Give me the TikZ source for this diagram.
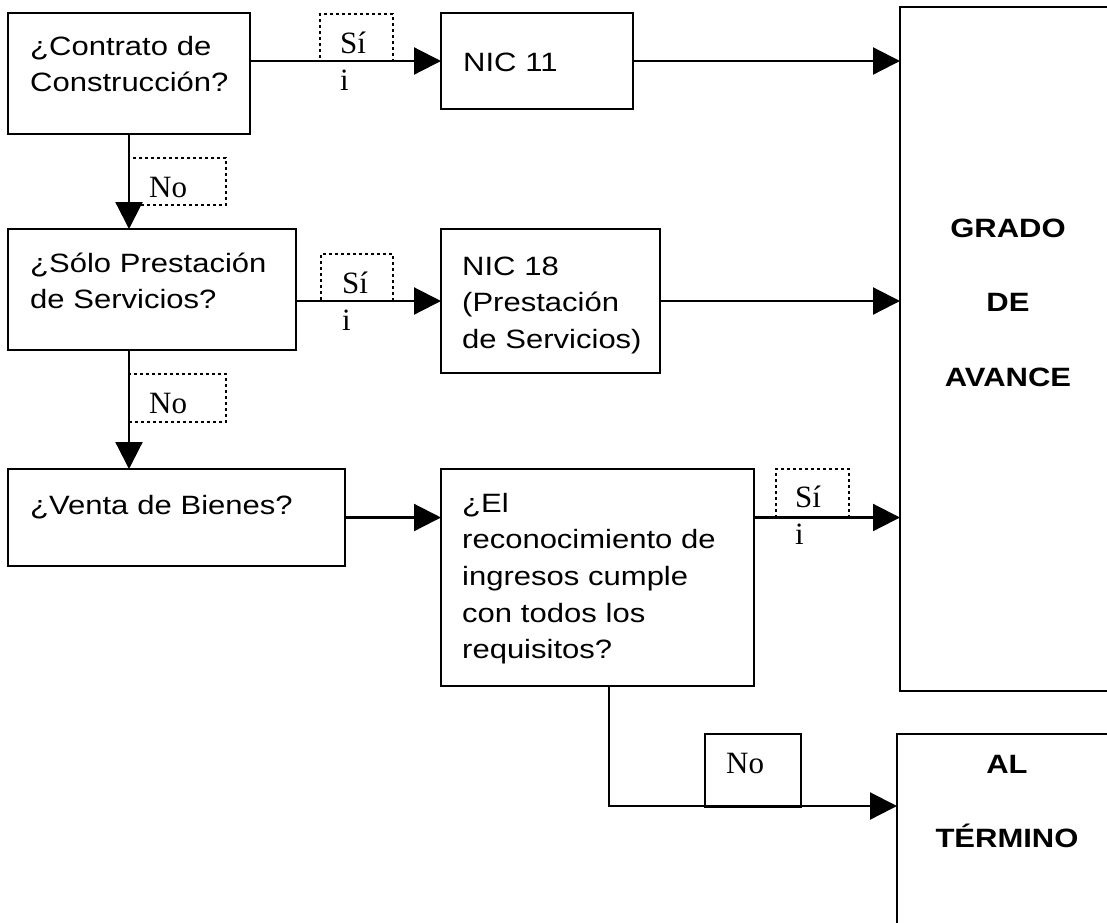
\documentclass[tikz,border=0pt]{standalone}
\usepackage{fontspec}
\setmainfont{Liberation Sans}[FakeStretch=1.17]
\newfontfamily\timesfont{Liberation Serif}
\usetikzlibrary{arrows.meta}

\tikzset{
  box/.style={draw, line width=2.6pt, inner sep=0pt, outer sep=0pt, anchor=north west},
  tag/.style={draw, line width=2pt, dash pattern=on 3pt off 3pt, inner sep=0pt, outer sep=0pt, anchor=north west},
  txt/.style={anchor=base west, inner sep=0pt, text width=400pt, align=left,
              font=\fontsize{26.5}{36.7}\selectfont},
  head/.style={anchor=base, inner sep=0pt, text width=200pt, align=center,
               font=\bfseries\fontsize{26.5}{74.5}\selectfont},
  ans/.style={anchor=base west, inner sep=0pt, text width=60pt, align=left,
              font=\timesfont\fontsize{31}{37}\selectfont},
  link/.style={line width=2.2pt},
  flow/.style={link, -{Triangle[length=27pt,width=27pt]}}
}

\begin{document}
\begin{tikzpicture}[x=1pt, y=-1pt]
\useasboundingbox (0,0) rectangle (1107,922);
\clip (0,0) rectangle (1107,922);

% question and result boxes
\node[box, minimum width=242pt, minimum height=121pt] (c1) at (8,13) {};
\node[box, minimum width=288pt, minimum height=121pt] (c2) at (8,229) {};
\node[box, minimum width=337pt, minimum height=97pt]  (c3) at (8,469) {};
\node[box, minimum width=192pt, minimum height=96pt]  (nic11) at (441,13) {};
\node[box, minimum width=219pt, minimum height=144pt] (nic18) at (441,229) {};
\node[box, minimum width=313pt, minimum height=217pt] (q4) at (441,469) {};
\node[box, minimum width=216pt, minimum height=684pt] (grado) at (900,7) {};
\node[box, minimum width=220pt, minimum height=230pt] (fin) at (897,734) {};

% box texts
\node[txt] (c1t) at (30,55) {¿Contrato de\\Construcción?};
\node[txt] (c2t) at (30,272) {¿Sólo Prestación\\de Servicios?};
\node[txt] (c3t) at (30,514) {¿Venta de Bienes?};
\node[txt] (nic11t) at (463,71) {NIC 11};
\node[txt] (nic18t) at (462,275) {NIC 18\\(Prestación\\de Servicios)};
\node[txt] (q4t) at (462,512) {¿El\\reconocimiento de\\ingresos cumple\\con todos los\\requisitos?};
\node[head] (gradot) at (1008,237) {GRADO\\DE\\AVANCE};
\node[head] (fint) at (1007,773) {AL\\TÉRMINO};

% answer tags
\node[tag, minimum width=73pt, minimum height=47pt] (s1) at (320,14) {};
\node[tag, minimum width=72pt, minimum height=47pt] (s2) at (321,254) {};
\node[tag, minimum width=73pt, minimum height=48pt] (s3) at (776,469) {};
\node[tag, minimum width=97pt, minimum height=47pt] (n1) at (129,158) {};
\node[tag, minimum width=97pt, minimum height=48pt] (n2) at (129,374) {};
\node[box, minimum width=96pt, minimum height=73pt] (n3) at (705,734) {};

\node[ans] (s1t) at (340,53) {Sí\\i};
\node[ans] (s2t) at (342,293) {Sí\\i};
\node[ans] (s3t) at (795,507) {Sí\\i};
\node[ans] (n1t) at (149,197) {No};
\node[ans] (n2t) at (149,413) {No};
\node[ans] (n3t) at (726,773) {No};

% connectors
\draw[flow] (c1.east |- nic11.west) -- (nic11.west);
\draw[flow] (nic11.east) -- (nic11.east -| grado.west);
\draw[flow] (c1.south) -- (c1.south |- c2.north);
\draw[flow] (c2.east |- nic18.west) -- (nic18.west);
\draw[flow] (nic18.east) -- (nic18.east -| grado.west);
\draw[flow] (c1.south |- c2.south) -- (c1.south |- c3.north);
\draw[flow] (c3.east) -- (c3.east -| q4.west);
\draw[flow] (q4.east |- c3.east) -- (c3.east -| grado.west);
\coordinate (turn) at (609,806);
\draw[flow] (q4.south -| turn) -- (turn) -- (turn -| fin.west);
\end{tikzpicture}
\end{document}
